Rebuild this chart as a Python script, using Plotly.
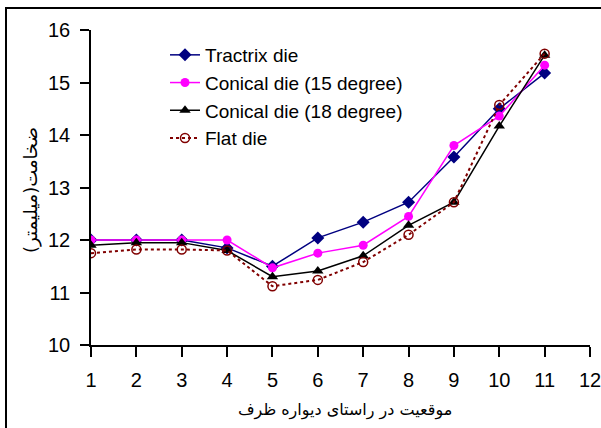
import plotly.graph_objects as go

positions = [1, 2, 3, 4, 5, 6, 7, 8, 9, 10, 11]
tractrix = [12.0, 12.0, 12.0, 11.85, 11.5, 12.04, 12.34, 12.72, 13.58, 14.5, 15.18]
conical15 = [12.0, 12.0, 12.0, 12.0, 11.47, 11.75, 11.9, 12.45, 13.8, 14.36, 15.33]
conical18 = [11.9, 11.95, 11.95, 11.8, 11.3, 11.41, 11.7, 12.28, 12.72, 14.17, 15.52]
flat = [11.75, 11.82, 11.82, 11.8, 11.12, 11.24, 11.58, 12.1, 12.72, 14.57, 15.55]

series_names = ["Tractrix die", "Conical die (15 degree)", "Conical die (18 degree)", "Flat die"]
x_ticks = list(range(1, 13))
y_ticks = [10, 11, 12, 13, 14, 15, 16]
x_title = "موقعیت در راستای دیواره ظرف"
y_title = "ضخامت(میلیمتر)"

fig = go.Figure()
fig.add_trace(go.Scatter(x=positions, y=tractrix, name=series_names[0], mode="lines+markers",
                         line=dict(color="#000080", width=1.5),
                         marker=dict(symbol="diamond", size=10, color="#000080")))
fig.add_trace(go.Scatter(x=positions, y=conical15, name=series_names[1], mode="lines+markers",
                         line=dict(color="#FF00FF", width=1.5),
                         marker=dict(symbol="circle", size=9, color="#FF00FF")))
fig.add_trace(go.Scatter(x=positions, y=conical18, name=series_names[2], mode="lines+markers",
                         line=dict(color="#000000", width=1.5),
                         marker=dict(symbol="triangle-up", size=10, color="#000000")))
fig.add_trace(go.Scatter(x=positions, y=flat, name=series_names[3], mode="lines+markers",
                         line=dict(color="#800000", width=2, dash="dot"),
                         marker=dict(symbol="circle-open", size=9, color="#800000", line=dict(width=1.5))))

L, R, T, B = 91, 11, 30, 83
W, H = 601, 428
pw, ph = W - L - R, H - T - B

fig.update_layout(
    width=W, height=H,
    margin=dict(l=L, r=R, t=T, b=B),
    paper_bgcolor="white", plot_bgcolor="white",
    font=dict(family="Liberation Sans, Arial, sans-serif", size=20, color="black"),
    showlegend=True,
    legend=dict(x=(165 - L) / pw, y=(H - B - 36) / ph, xanchor="left", yanchor="top",
                bgcolor="rgba(0,0,0,0)", font=dict(size=19),
                tracegroupgap=0),
    xaxis=dict(range=[1, 12], tickvals=x_ticks, ticks="outside", ticklen=10, tickwidth=1.5,
               tickcolor="black", showline=True, linecolor="black", linewidth=1.5,
               showgrid=False, zeroline=False, ticklabelstandoff=6,
               ticklabeloverflow="allow", automargin=False),
    yaxis=dict(range=[10, 16], tickvals=y_ticks, ticks="outside", ticklen=9, tickwidth=1.5,
               tickcolor="black", showline=True, linecolor="black", linewidth=1.5,
               showgrid=False, zeroline=False, ticklabelstandoff=6,
               ticklabeloverflow="allow", automargin=False),
)

fig.add_annotation(text=x_title, xref="paper", yref="paper",
                   x=(345 - L) / pw, y=-(410 - (H - B)) / ph, showarrow=False,
                   xanchor="center", yanchor="middle",
                   font=dict(family="DejaVu Sans", size=16, color="black"))
fig.add_annotation(text=y_title, xref="paper", yref="paper", textangle=-90,
                   x=(31 - L) / pw, y=((H - B) - 190) / ph, showarrow=False,
                   xanchor="center", yanchor="middle",
                   font=dict(family="DejaVu Sans", size=18, color="black"))

fig.add_shape(type="rect", xref="paper", yref="paper",
              x0=(6 - L) / pw, x1=(620 - L) / pw,
              y0=-(450 - (H - B)) / ph, y1=((H - B) - 8) / ph,
              line=dict(color="black", width=2), fillcolor="rgba(0,0,0,0)", layer="below")

fig.write_html("out.html")
